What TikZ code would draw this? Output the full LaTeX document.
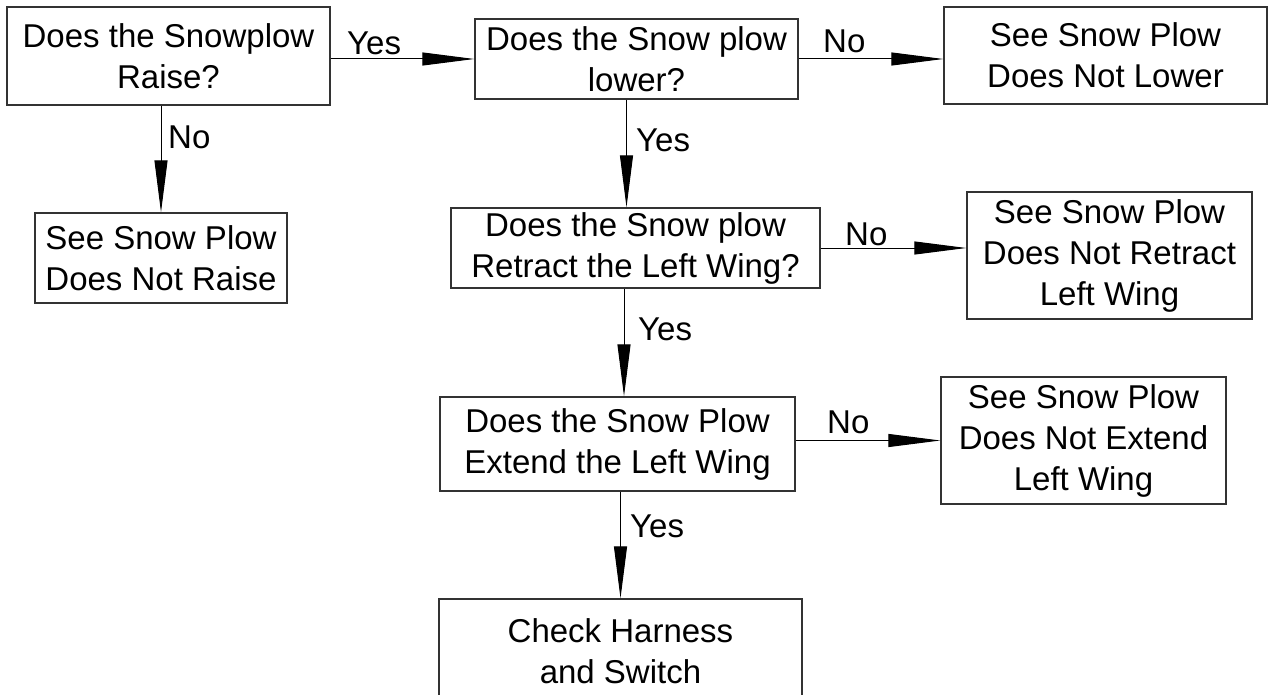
\documentclass[tikz,border=0pt]{standalone}
\usepackage{fontspec}
\setmainfont{Liberation Sans}
\usetikzlibrary{arrows.meta,calc}
\tikzset{
  box/.style={draw=black!80, line width=1.4pt, inner sep=0pt, align=center,
    font=\fontsize{33}{41}\selectfont},
  lbl/.style={inner sep=0pt, anchor=base west, font=\fontsize{33}{41}\selectfont},
  conn/.style={draw=black, line width=1pt, -{Triangle[length=52pt,width=13pt]}}
}
\begin{document}
\begin{tikzpicture}[x=1pt,y=-1pt]
\clip (0,0) rectangle (1268,695);
\fill[white] (0,0) rectangle (1268,695);

\node[box, minimum width=323pt, minimum height=98pt] (b1) at (168.5,56) {Does the Snowplow\\Raise?};
\node[box, minimum width=323pt, minimum height=80pt] (b2) at (636.5,59) {Does the Snow plow\\lower?};
\node[box, minimum width=323pt, minimum height=97pt] (b3) at (1105.5,55.5) {See Snow Plow\\Does Not Lower};
\node[box, minimum width=252pt, minimum height=90pt] (b4) at (161,258) {See Snow Plow\\Does Not Raise};
\node[box, minimum width=369pt, minimum height=80pt] (b5) at (635.5,248) {Does the Snow plow\\Retract the Left Wing?};
\node[box, minimum width=285pt, minimum height=127pt] (b6) at (1109.5,255.5) {See Snow Plow\\Does Not Retract\\Left Wing};
\node[box, minimum width=355pt, minimum height=94pt] (b7) at (617.5,444) {Does the Snow Plow\\Extend the Left Wing};
\node[box, minimum width=285pt, minimum height=127pt] (b8) at (1083.5,440.5) {See Snow Plow\\Does Not Extend\\Left Wing};
\node[box, minimum width=363pt, minimum height=104pt] (b9) at (620.5,651) {Check Harness\\and Switch};

\draw[conn] (b1.east |- b2.west) -- (b2.west);
\draw[conn] (b1.south -| b4.north) -- (b4.north);
\draw[conn] (b2.east) -- (b3.west |- b2.east);
\draw[conn] ([xshift=-10pt]b2.south) -- ([xshift=-10pt]b2.south |- b5.north);
\draw[conn] (b5.east) -- (b6.west |- b5.east);
\draw[conn] ([xshift=-11.5pt]b5.south) -- ([xshift=-11.5pt]b5.south |- b7.north);
\draw[conn] (b7.east |- b8.west) -- (b8.west);
\draw[conn] (b7.south -| b9.north) -- (b9.north);

\node[lbl] (l1) at (347,55) {Yes};
\node[lbl] (l2) at (168,149) {No};
\node[lbl] (l3) at (823,53) {No};
\node[lbl] (l4) at (636,152) {Yes};
\node[lbl] (l5) at (845,245) {No};
\node[lbl] (l6) at (638,340) {Yes};
\node[lbl] (l7) at (827,433) {No};
\node[lbl] (l8) at (630,537) {Yes};
\end{tikzpicture}
\end{document}
